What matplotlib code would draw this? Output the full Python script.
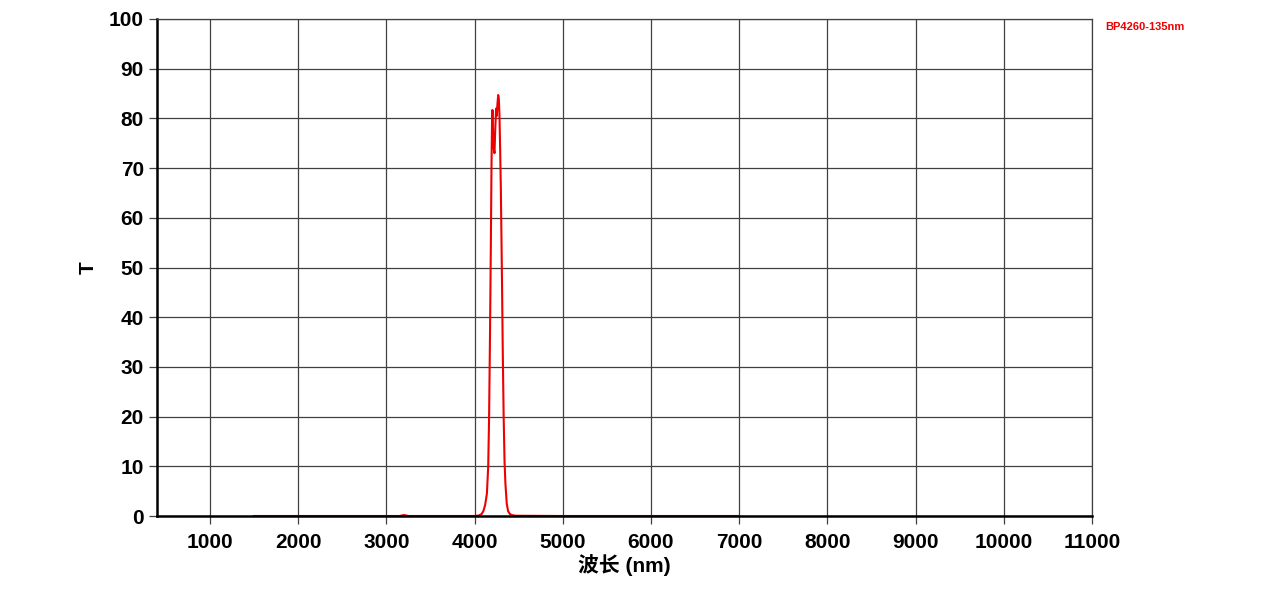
import matplotlib
matplotlib.use("Agg")
import matplotlib.pyplot as plt

# transmission curve
wl = [1500, 3000, 3150, 3200, 3250, 3400, 4000, 4050, 4080, 4100, 4120, 4140,
      4155, 4165, 4175, 4185, 4192, 4198, 4203, 4210, 4218, 4226, 4235, 4245,
      4252, 4260, 4268, 4275, 4282, 4290, 4298, 4305, 4312, 4320, 4330, 4340,
      4350, 4365, 4380, 4400, 4430, 4470, 5000, 7000]
T = [0, 0, 0, 0.2, 0, 0, 0, 0.1, 0.4, 1.0, 2.2, 4.5,
     10, 20, 36, 55, 70, 79, 81.7, 77, 74, 73, 78, 82,
     80.5, 83, 84.7, 84, 81, 74, 66, 56, 46, 33, 20, 11,
     6.5, 2.5, 1.0, 0.4, 0.15, 0.05, 0, 0]

xticks = [1000, 2000, 3000, 4000, 5000, 6000, 7000, 8000, 9000, 10000, 11000]
yticks = [0, 10, 20, 30, 40, 50, 60, 70, 80, 90, 100]

plt.rcParams['font.family'] = ['Liberation Sans', 'Noto Sans CJK SC']
plt.rcParams['font.weight'] = 'bold'

fig = plt.figure(figsize=(12.69, 6.10), dpi=100)
ax = fig.add_axes([157/1269, 1-516/610, (1092-157)/1269, (516-19)/610])

ax.plot(wl, T, color='#ee0000', lw=1.5)

ax.set_xlim(400, 11000)
ax.set_ylim(0, 100)
ax.set_xticks(xticks)
ax.set_yticks(yticks)
ax.grid(True, color='#404040', lw=0.9)
ax.tick_params(labelsize=15, length=6, width=0.9, color='#404040')
ax.tick_params(axis='x', pad=6)
for lbl in ax.get_xticklabels() + ax.get_yticklabels():
    lbl.set_fontweight('bold')

for s in ['left', 'bottom']:
    ax.spines[s].set_color('black')
    ax.spines[s].set_linewidth(1.8)
for s in ['top', 'right']:
    ax.spines[s].set_color('#404040')
    ax.spines[s].set_linewidth(0.9)

ax.set_xlabel('波长 (nm)', fontsize=15, fontweight='bold', labelpad=2)
ax.set_ylabel('T', fontsize=15, fontweight='bold', labelpad=8)

fig.text(1105/1269, 1-27/610, 'BP4260-135nm', color='#ee0000', fontsize=8,
         fontweight='bold', va='center', ha='left')

fig.savefig('out.png', dpi=100)
